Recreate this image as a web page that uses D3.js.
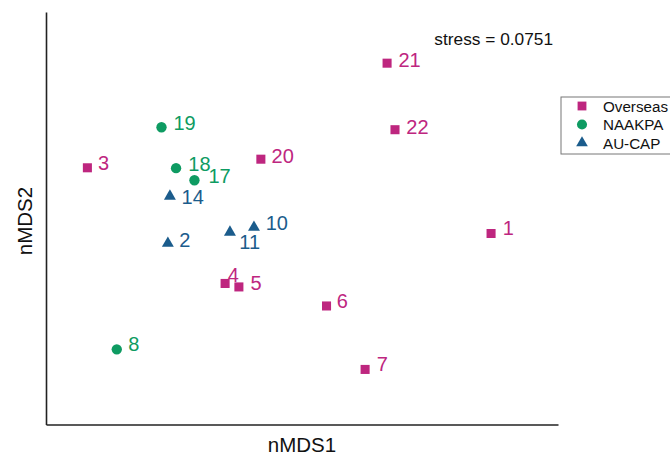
<!DOCTYPE html>
<html><head><meta charset="utf-8">
<script src="https://cdn.jsdelivr.net/npm/d3@7"></script>
<style>body{margin:0;background:#fff}svg{display:block;font-family:Arial,"Liberation Sans",sans-serif}</style>
</head><body><svg id="c" width="670" height="457"></svg>
<script>
// Data
const sampleIds = ["1","2","3","4","5","6","7","8","10","11","14","17","18","19","20","21","22"];
const groups    = ["Overseas","AU-CAP","Overseas","Overseas","Overseas","Overseas","Overseas","NAAKPA","AU-CAP","AU-CAP","AU-CAP","NAAKPA","NAAKPA","NAAKPA","Overseas","Overseas","Overseas"];
const nmds1     = [0.742,-0.523,-0.838,-0.299,-0.245,0.098,0.249,-0.723,-0.186,-0.280,-0.515,-0.419,-0.491,-0.548,-0.159,0.335,0.366];
const nmds2     = [-0.067,-0.115,0.254,-0.311,-0.328,-0.421,-0.731,-0.633,-0.037,-0.061,0.115,0.193,0.252,0.452,0.296,0.765,0.440];
const groupNames = ["Overseas","NAAKPA","AU-CAP"];
const stressLabel = "stress = 0.0751";

// label offsets (pixels) for placement, like repel
const labelDx = [11.7,11.3,10.5,2.7,11.7,10.2,11.7,11.6,11.7,9.3,11.7,14,12.3,12,10.7,11.3,11.3];
const labelDy = [1.7,3.7,2.5,-1.3,2.8,1.8,2,2,3,16.3,8,2.7,2.7,3,4.3,3.7,4];

const colors = {"Overseas":"#BE267F","NAAKPA":"#0E9B62","AU-CAP":"#1B5C8C"};
const shapes = {"Overseas":d3.symbolSquare,"NAAKPA":d3.symbolCircle,"AU-CAP":d3.symbolTriangle};
const sizes  = {"Overseas":82,"NAAKPA":84,"AU-CAP":62};

const svg = d3.select("#c");
const L=46, R=558, T=12, B=424.5;
const x = d3.scaleLinear().domain([-1,1.004]).range([L,R]);
const y = d3.scaleLinear().domain([-1,1.015]).range([B,T]);

// axes (no ticks)
svg.append("g").attr("transform",`translate(0,${B})`)
  .call(d3.axisBottom(x).tickValues([]).tickSizeOuter(0))
  .call(g=>g.select(".domain").attr("stroke","#222").attr("stroke-width",1.6));
svg.append("g").attr("transform",`translate(${L},0)`)
  .call(d3.axisLeft(y).tickValues([]).tickSizeOuter(0))
  .call(g=>g.select(".domain").attr("stroke","#222").attr("stroke-width",1.6));

svg.append("text").attr("x",(L+R)/2).attr("y",452).attr("text-anchor","middle")
  .attr("font-size",20.5).attr("fill","#111").text("nMDS1");
svg.append("text").attr("transform","translate(32,221) rotate(-90)").attr("text-anchor","middle")
  .attr("font-size",20.5).attr("fill","#111").text("nMDS2");

svg.append("text").attr("x",553).attr("y",45).attr("text-anchor","end")
  .attr("font-size",17.3).attr("fill","#111").text(stressLabel);

const data = sampleIds.map((id,i)=>({id,g:groups[i],x:nmds1[i],y:nmds2[i],dx:labelDx[i],dy:labelDy[i]}));

svg.append("g").selectAll("path").data(data).join("path")
  .attr("d",d=>d3.symbol().type(shapes[d.g]).size(sizes[d.g])())
  .attr("transform",d=>`translate(${x(d.x)},${y(d.y)})`)
  .attr("fill",d=>colors[d.g]);

svg.append("g").selectAll("text").data(data).join("text")
  .attr("x",d=>x(d.x)+d.dx).attr("y",d=>y(d.y)+d.dy)
  .attr("font-size",20).attr("fill",d=>colors[d.g]).text(d=>d.id);

// legend
const lg = svg.append("g");
lg.append("rect").attr("x",561).attr("y",97).attr("width",120).attr("height",57)
  .attr("fill","#fff").attr("stroke","#777").attr("stroke-width",1);
groupNames.forEach((gname,i)=>{
  const cy = 106 + i*18.5;
  lg.append("path").attr("d",d3.symbol().type(shapes[gname]).size(sizes[gname]*0.95)())
    .attr("transform",`translate(582,${cy})`).attr("fill",colors[gname]);
  lg.append("text").attr("x",603).attr("y",cy+5.5).attr("font-size",15.2).attr("fill","#111").text(gname);
});
</script></body></html>
